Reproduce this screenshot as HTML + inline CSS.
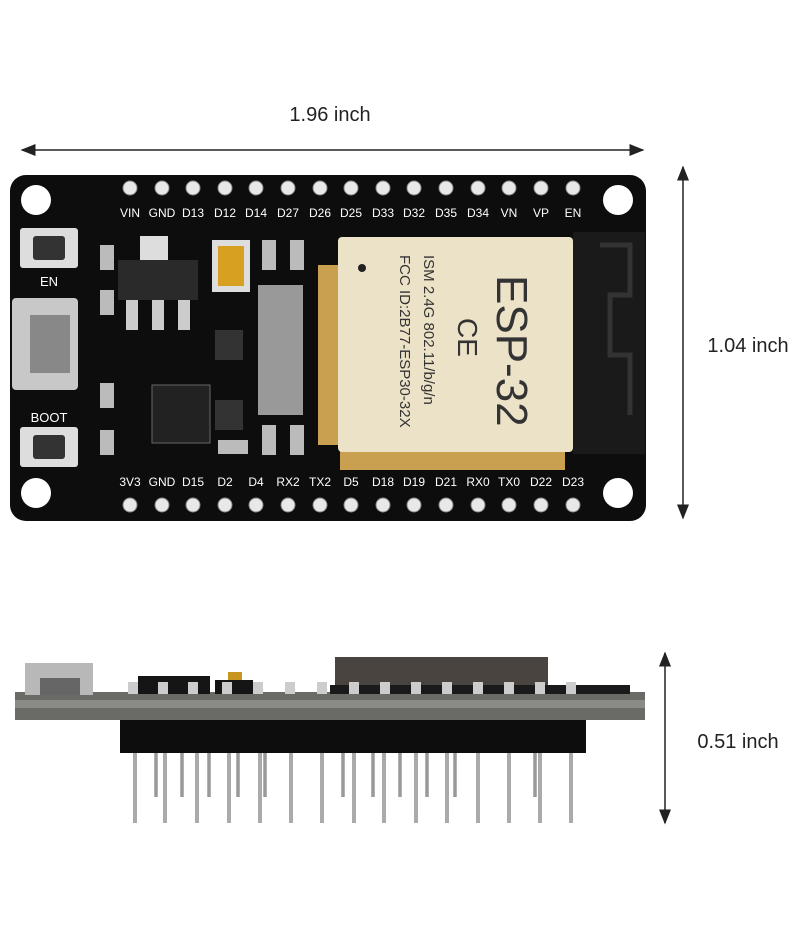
<!DOCTYPE html>
<html><head><meta charset="utf-8"><style>
html,body{margin:0;padding:0;background:#fff;}
svg{display:block}
</style></head><body>
<svg width="800" height="930" viewBox="0 0 800 930" xmlns="http://www.w3.org/2000/svg" font-family="Liberation Sans, sans-serif">
<defs>
<marker id="ah" markerWidth="10" markerHeight="8" refX="9" refY="4" orient="auto-start-reverse"><path d="M0,0 L10,4 L0,8 z" fill="#222"/></marker>
</defs>
<text x="330" y="121" font-size="20" text-anchor="middle" fill="#222">1.96 inch</text>
<line x1="22" y1="150" x2="643" y2="150" stroke="#222" stroke-width="1.5" marker-start="url(#ah)" marker-end="url(#ah)"/>
<line x1="683" y1="167" x2="683" y2="518" stroke="#222" stroke-width="1.5" marker-start="url(#ah)" marker-end="url(#ah)"/>
<text x="748" y="352" font-size="20" text-anchor="middle" fill="#222">1.04 inch</text>
<rect x="10" y="175" width="636" height="346" rx="16" fill="#0d0d0d"/>
<g fill="#fff">
<circle cx="36" cy="200" r="15"/><circle cx="618" cy="200" r="15"/>
<circle cx="36" cy="493" r="15"/><circle cx="618" cy="493" r="15"/>
</g>
<g fill="#e8e8e8" stroke="#888" stroke-width="1">
<circle cx="130" cy="188" r="7"/><circle cx="162" cy="188" r="7"/><circle cx="193" cy="188" r="7"/><circle cx="225" cy="188" r="7"/><circle cx="256" cy="188" r="7"/><circle cx="288" cy="188" r="7"/><circle cx="320" cy="188" r="7"/><circle cx="351" cy="188" r="7"/><circle cx="383" cy="188" r="7"/><circle cx="414" cy="188" r="7"/><circle cx="446" cy="188" r="7"/><circle cx="478" cy="188" r="7"/><circle cx="509" cy="188" r="7"/><circle cx="541" cy="188" r="7"/><circle cx="573" cy="188" r="7"/>
<circle cx="130" cy="505" r="7"/><circle cx="162" cy="505" r="7"/><circle cx="193" cy="505" r="7"/><circle cx="225" cy="505" r="7"/><circle cx="256" cy="505" r="7"/><circle cx="288" cy="505" r="7"/><circle cx="320" cy="505" r="7"/><circle cx="351" cy="505" r="7"/><circle cx="383" cy="505" r="7"/><circle cx="414" cy="505" r="7"/><circle cx="446" cy="505" r="7"/><circle cx="478" cy="505" r="7"/><circle cx="509" cy="505" r="7"/><circle cx="541" cy="505" r="7"/><circle cx="573" cy="505" r="7"/>
</g>
<g fill="#fff" font-size="12" text-anchor="middle">
<text x="130" y="217">VIN</text><text x="162" y="217">GND</text><text x="193" y="217">D13</text><text x="225" y="217">D12</text><text x="256" y="217">D14</text><text x="288" y="217">D27</text><text x="320" y="217">D26</text><text x="351" y="217">D25</text><text x="383" y="217">D33</text><text x="414" y="217">D32</text><text x="446" y="217">D35</text><text x="478" y="217">D34</text><text x="509" y="217">VN</text><text x="541" y="217">VP</text><text x="573" y="217">EN</text>
<text x="130" y="486">3V3</text><text x="162" y="486">GND</text><text x="193" y="486">D15</text><text x="225" y="486">D2</text><text x="256" y="486">D4</text><text x="288" y="486">RX2</text><text x="320" y="486">TX2</text><text x="351" y="486">D5</text><text x="383" y="486">D18</text><text x="414" y="486">D19</text><text x="446" y="486">D21</text><text x="478" y="486">RX0</text><text x="509" y="486">TX0</text><text x="541" y="486">D22</text><text x="573" y="486">D23</text>
<text x="49" y="286" font-size="13">EN</text><text x="49" y="422" font-size="13">BOOT</text>
</g>
<rect x="20" y="228" width="58" height="40" rx="3" fill="#ddd"/><rect x="33" y="236" width="32" height="24" rx="3" fill="#333"/>
<rect x="20" y="427" width="58" height="40" rx="3" fill="#ddd"/><rect x="33" y="435" width="32" height="24" rx="3" fill="#333"/>
<rect x="12" y="298" width="66" height="92" rx="4" fill="#c8c8c8"/><rect x="30" y="315" width="40" height="58" fill="#888"/>
<rect x="118" y="260" width="80" height="40" fill="#2a2a2a"/><rect x="140" y="236" width="28" height="24" fill="#ddd"/>
<rect x="126" y="300" width="12" height="30" fill="#ccc"/><rect x="152" y="300" width="12" height="30" fill="#ccc"/><rect x="178" y="300" width="12" height="30" fill="#ccc"/>
<rect x="212" y="240" width="38" height="52" fill="#ddd"/><rect x="218" y="246" width="26" height="40" fill="#d8a020"/>
<rect x="152" y="385" width="58" height="58" fill="#222" stroke="#666"/>
<g fill="#bbb">
<rect x="100" y="245" width="14" height="25"/><rect x="100" y="290" width="14" height="25"/><rect x="100" y="383" width="14" height="25"/><rect x="100" y="430" width="14" height="25"/>
<rect x="262" y="240" width="14" height="30"/><rect x="290" y="240" width="14" height="30"/>
<rect x="258" y="285" width="45" height="130" fill="#999"/>
<rect x="262" y="425" width="14" height="30"/><rect x="290" y="425" width="14" height="30"/>
<rect x="218" y="440" width="30" height="14"/><rect x="215" y="330" width="28" height="30" fill="#333"/><rect x="215" y="400" width="28" height="30" fill="#333"/>
</g>
<g fill="#c9a050">
<rect x="318" y="265" width="22" height="180"/>
<rect x="340" y="445" width="225" height="25"/>
</g>
<rect x="338" y="237" width="235" height="215" rx="4" fill="#ece2c8"/>
<circle cx="362" cy="268" r="4" fill="#222"/>
<text transform="translate(424,255) rotate(90)" font-size="15" fill="#333">ISM 2.4G 802.11/b/g/n</text>
<text transform="translate(400,255) rotate(90)" font-size="15" fill="#333">FCC ID:2B77-ESP30-32X</text>
<text transform="translate(497,275) rotate(90)" font-size="44" fill="#333">ESP-32</text>
<text transform="translate(458,318) rotate(90)" font-size="28" fill="#333">CE</text>
<rect x="573" y="232" width="72" height="222" fill="#1a1a1a"/>
<path d="M600,245 h30 v50 h-20 v60 h20 v60" stroke="#333" stroke-width="5" fill="none"/>

<line x1="665" y1="653" x2="665" y2="823" stroke="#222" stroke-width="1.5" marker-start="url(#ah)" marker-end="url(#ah)"/>
<text x="738" y="748" font-size="20" text-anchor="middle" fill="#222">0.51 inch</text>
<g stroke="#aaa" stroke-width="4">
<line x1="135" y1="740" x2="135" y2="823"/><line x1="165" y1="740" x2="165" y2="823"/><line x1="197" y1="740" x2="197" y2="823"/><line x1="229" y1="740" x2="229" y2="823"/><line x1="260" y1="740" x2="260" y2="823"/><line x1="291" y1="740" x2="291" y2="823"/><line x1="322" y1="740" x2="322" y2="823"/><line x1="354" y1="740" x2="354" y2="823"/><line x1="384" y1="740" x2="384" y2="823"/><line x1="416" y1="740" x2="416" y2="823"/><line x1="447" y1="740" x2="447" y2="823"/><line x1="478" y1="740" x2="478" y2="823"/><line x1="509" y1="740" x2="509" y2="823"/><line x1="540" y1="740" x2="540" y2="823"/><line x1="571" y1="740" x2="571" y2="823"/>
</g>
<g stroke="#999" stroke-width="3.5">
<line x1="156" y1="740" x2="156" y2="797"/><line x1="182" y1="740" x2="182" y2="797"/><line x1="209" y1="740" x2="209" y2="797"/><line x1="238" y1="740" x2="238" y2="797"/><line x1="265" y1="740" x2="265" y2="797"/><line x1="343" y1="740" x2="343" y2="797"/><line x1="373" y1="740" x2="373" y2="797"/><line x1="400" y1="740" x2="400" y2="797"/><line x1="427" y1="740" x2="427" y2="797"/><line x1="455" y1="740" x2="455" y2="797"/><line x1="535" y1="740" x2="535" y2="797"/>
</g>
<rect x="120" y="718" width="466" height="35" fill="#0d0d0d"/>
<rect x="15" y="692" width="630" height="28" fill="#6a6a66"/>
<rect x="15" y="700" width="630" height="8" fill="#8a8a86"/>
<rect x="25" y="663" width="68" height="32" fill="#b8b8b8"/><rect x="40" y="678" width="40" height="17" fill="#666"/>
<rect x="138" y="676" width="72" height="18" fill="#151515"/>
<rect x="215" y="680" width="38" height="14" fill="#151515"/><rect x="228" y="672" width="14" height="8" fill="#c8961e"/>
<rect x="335" y="657" width="213" height="30" fill="#4a4440"/>
<rect x="330" y="685" width="300" height="9" fill="#1a1a1a"/>
<g fill="#ccc">
<rect x="128" y="682" width="10" height="12"/><rect x="158" y="682" width="10" height="12"/><rect x="188" y="682" width="10" height="12"/><rect x="222" y="682" width="10" height="12"/><rect x="253" y="682" width="10" height="12"/><rect x="285" y="682" width="10" height="12"/><rect x="317" y="682" width="10" height="12"/><rect x="349" y="682" width="10" height="12"/><rect x="380" y="682" width="10" height="12"/><rect x="411" y="682" width="10" height="12"/><rect x="442" y="682" width="10" height="12"/><rect x="473" y="682" width="10" height="12"/><rect x="504" y="682" width="10" height="12"/><rect x="535" y="682" width="10" height="12"/><rect x="566" y="682" width="10" height="12"/>
</g>
</svg>
</body></html>
